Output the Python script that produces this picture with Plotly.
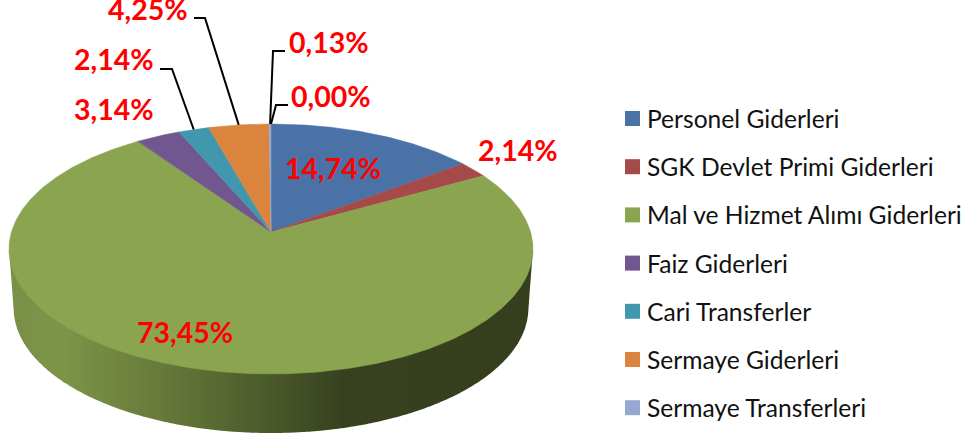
import numpy as np
import plotly.graph_objects as go

# ---- data ----
categories = ["Personel Giderleri", "SGK Devlet Primi Giderleri", "Mal ve Hizmet Alımı Giderleri",
              "Faiz Giderleri", "Cari Transferler", "Sermaye Giderleri", "Sermaye Transferleri", ""]
values = [14.74, 2.14, 73.45, 3.14, 2.14, 4.25, 0.13, 0.00]
value_labels = ["14,74%", "2,14%", "73,45%", "3,14%", "2,14%", "4,25%", "0,13%", "0,00%"]
colors = ["#4a72a6", "#a54a48", "#8aa44f", "#71578f", "#4097ae", "#db843e", "#95a9d0", "#c0c0c0"]

# ---- pie geometry (perspective projection of a tilted disc, in pixels) ----
CX, CY, R, S, K, DEPTH, R_BOTTOM = 271.0, 232.0, 259.6, 122.7, 0.136, 59.0, 255.0
SIDE_STOPS = [(10, (0x7a, 0x8f, 0x47)), (60, (0x7e, 0x95, 0x49)), (150, (0x6a, 0x7d, 0x3c)),
              (230, (0x56, 0x66, 0x30)), (270, (0x4b, 0x5a, 0x2b)), (340, (0x38, 0x42, 0x20)),
              (530, (0x35, 0x3f, 0x1e))]


def project(frac, radius=1.0, r_px=R, dy=0.0):
    t = 2 * np.pi * np.asarray(frac)
    u, v = radius * np.sin(t), -radius * np.cos(t)
    d = 1 - K * v
    return CX + r_px * u / d, CY + dy + S * v / d


def side_color(x):
    xs = [p[0] for p in SIDE_STOPS]
    rgb = [np.interp(x, xs, [p[1][i] for p in SIDE_STOPS]) for i in range(3)]
    return "rgb(%d,%d,%d)" % tuple(rgb)


total = sum(values)
edges = np.concatenate([[0], np.cumsum(values)]) / total
fig = go.Figure()

# side wall of the big slice: silhouette of its lower edge, filled in vertical colour bands
i_big = int(np.argmax(values))
fr = np.linspace(edges[i_big], edges[i_big + 1], 1500)
xt, yt = project(fr)
xb, yb = project(fr, r_px=R_BOTTOM, dy=DEPTH)
il, ir = int(np.argmin(xt)), int(np.argmax(xt))
jl, jr = int(np.argmin(xb)), int(np.argmax(xb))
order = np.argsort(xb[jr:jl + 1])
sil_x = np.concatenate([[xt[il]], xb[jr:jl + 1][order], [xt[ir]]])
sil_y = np.concatenate([[yt[il]], yb[jr:jl + 1][order], [yt[ir]]])
wall_top = CY + 18
x_lo, x_hi = int(np.floor(xt[il])), int(np.ceil(xt[ir]))
for x0 in range(x_lo, x_hi, 3):
    x1 = min(x0 + 3, x_hi)
    low_x = np.clip(np.arange(x0, x1 + 1, dtype=float), xt[il], xt[ir])
    low_y = np.interp(low_x, sil_x, sil_y)
    col = side_color((x0 + x1) / 2)
    fig.add_trace(go.Scatter(x=[low_x[0]] + list(low_x) + [low_x[-1]],
                             y=[wall_top] + list(low_y) + [wall_top],
                             fill="toself", mode="lines", line=dict(width=0), fillcolor=col,
                             showlegend=False, hoverinfo="skip"))

# top faces
for i, (name, val, col) in enumerate(zip(categories, values, colors)):
    if val <= 0:
        continue
    fr = np.linspace(edges[i], edges[i + 1], max(3, int(val * 6)))
    x, y = project(fr)
    fig.add_trace(go.Scatter(x=[CX] + list(x) + [CX], y=[CY] + list(y) + [CY], fill="toself", mode="lines",
                             line=dict(color=col, width=0.5), fillcolor=col,
                             showlegend=False, hoverinfo="text", text=f"{name}: {value_labels[i]}"))

# leader lines: rim anchor comes from the data, elbow positions are layout choices
leaders = {4: (160, 172, 69), 5: (194, 205, 18), 6: (285, 273, 51), 7: (288, 276, 105)}
shapes = []
for i, (x0, x1, yy) in leaders.items():
    rx, ry = project((edges[i] + edges[i + 1]) / 2)
    shapes.append(dict(type="path", path=f"M{x0},{yy} L{x1},{yy} L{rx:.1f},{ry:.1f}",
                       line=dict(color="black", width=2), fillcolor="rgba(0,0,0,0)"))

label_pos = [(333, 168), (518, 150), (185, 332), (114, 109), (114, 59), (148, 9), (329, 42), (331, 96)]
annotations = [dict(x=px, y=py, text=f"<b>{t}</b>", showarrow=False, xanchor="center", yanchor="middle",
                    font=dict(family="Lato", size=28.5, color="#ff0000"))
               for (px, py), t in zip(label_pos, value_labels)]

# legend, laid out to the reference's swatch/text spacing
LEG_SWATCH_X, LEG_TEXT_X, LEG_Y0, LEG_DY = 632.5, 645, 118.5, 48.2
row = 0
for name, col in zip(categories, colors):
    if not name:
        continue
    yy = LEG_Y0 + LEG_DY * row
    fig.add_trace(go.Scatter(x=[LEG_SWATCH_X], y=[yy], mode="markers", showlegend=False, hoverinfo="text",
                             text=name, marker=dict(symbol="square", size=15, color=col, line=dict(width=0))))
    annotations.append(dict(x=LEG_TEXT_X, y=yy, text=name, showarrow=False, xanchor="left", yanchor="middle",
                            font=dict(family="Lato", size=24.6, color="#111111")))
    row += 1

fig.update_layout(
    width=963, height=438, margin=dict(l=0, r=0, t=0, b=0),
    paper_bgcolor="white", plot_bgcolor="white", showlegend=False,
    xaxis=dict(range=[0, 963], visible=False, fixedrange=True),
    yaxis=dict(range=[438, 0], visible=False, fixedrange=True),
    shapes=shapes, annotations=annotations,
)
fig.write_html("out.html", config=dict(displayModeBar=False),
               post_script="document.body.style.margin='0';")
